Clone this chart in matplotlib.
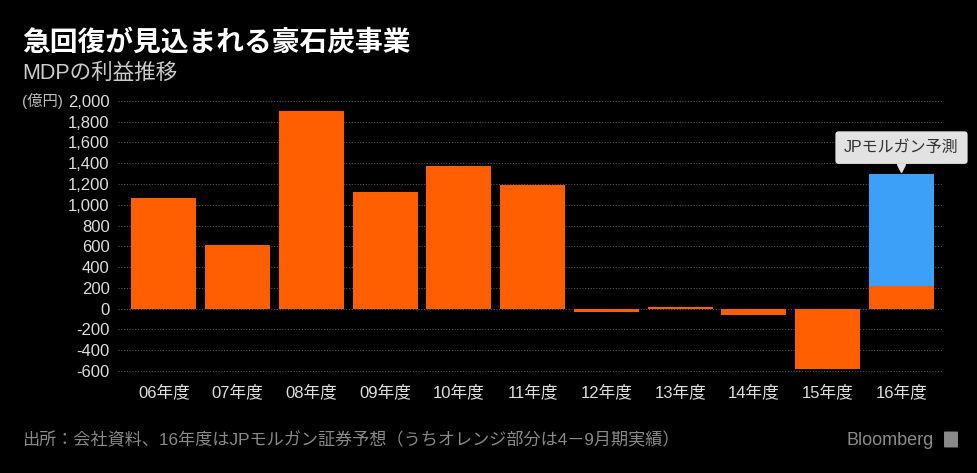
import numpy as np
import matplotlib.pyplot as plt
from matplotlib.patches import FancyBboxPatch
from matplotlib.transforms import ScaledTranslation

plt.rcParams['font.family'] = ['Liberation Sans', 'Noto Sans CJK JP', 'DejaVu Sans']

years = ['06年度', '07年度', '08年度', '09年度', '10年度', '11年度',
         '12年度', '13年度', '14年度', '15年度', '16年度']
profit = [1070, 610, 1900, 1120, 1370, 1190, -30, 20, -65, -580, 220]
forecast_total = 1300   # JP Morgan forecast for FY16
yticks = [-600, -400, -200, 0, 200, 400, 600, 800, 1000, 1200, 1400, 1600, 1800, 2000]

ORANGE = '#ff5f00'
BLUE = '#3ca0f8'
BG = '#000000'

fig = plt.figure(figsize=(9.77, 4.73), dpi=100, facecolor=BG)
ax = fig.add_axes([0.1208, 0.2114, 0.965 - 0.1208, 0.791 - 0.2114], facecolor=BG)

x = np.arange(len(years))
ax.bar(x, profit, width=0.88, color=ORANGE, zorder=3)
# forecast part of FY16 stacked on the actual first half
ax.bar(x[-1], forecast_total - profit[-1], bottom=profit[-1], width=0.88,
       color=BLUE, zorder=3)

ax.set_xlim(-0.62, len(years) - 1 + 0.56)
ax.set_ylim(-620, 2020)
ax.set_yticks(yticks)
ax.set_yticklabels([f'{v:,}' for v in yticks])
ax.set_xticks(x)
ax.set_xticklabels(years)
ax.tick_params(axis='both', length=0, colors='#dddddd', labelsize=12)
ax.tick_params(axis='y', pad=6)
ax.tick_params(axis='x', pad=8)
ax.grid(axis='y', color='#555555', linestyle=(0, (1, 1.5)), linewidth=0.8, zorder=0)
for s in ax.spines.values():
    s.set_visible(False)

# forecast callout
ax.annotate('JPモルガン予測', xy=(x[-1], forecast_total), xytext=(0, 26),
            textcoords='offset pixels', ha='center', va='center',
            fontsize=11.5, color='#333333', zorder=5,
            bbox=dict(boxstyle='round,pad=0.55,rounding_size=0.2',
                      fc='#e2e2e2', ec='none'))
ax.plot(x[-1], forecast_total, marker='v', markersize=6, color='#e2e2e2',
        transform=ax.transData + ScaledTranslation(0, 6 / 100, fig.dpi_scale_trans),
        zorder=5, clip_on=False)

# titles
fig.text(22 / 977, 1 - 43 / 473, '急回復が見込まれる豪石炭事業', fontsize=20,
         fontweight='bold', color='white', va='center', ha='left')
fig.text(22 / 977, 1 - 73 / 473, 'MDPの利益推移', fontsize=15.5, color='#cccccc',
         va='center', ha='left')
fig.text(22 / 977, 1 - 101 / 473, '(億円)', fontsize=11, color='#bbbbbb',
         va='center', ha='left')

# footer
fig.text(22 / 977, 1 - 440 / 473,
         '出所：会社資料、16年度はJPモルガン証券予想（うちオレンジ部分は4－9月期実績）',
         fontsize=12.3, color='#8a8a8a', va='center', ha='left')
fig.text(934 / 977, 1 - 440 / 473, 'Bloomberg', fontsize=13,
         color='#8a8a8a', va='center', ha='right')
fig.patches.append(FancyBboxPatch((945 / 977, 1 - 447 / 473), 12 / 977, 15 / 473,
                                  boxstyle='round,pad=0.001', fc='#8a8a8a', ec='none',
                                  transform=fig.transFigure, figure=fig))

fig.savefig('out.png', dpi=100, facecolor=BG)
